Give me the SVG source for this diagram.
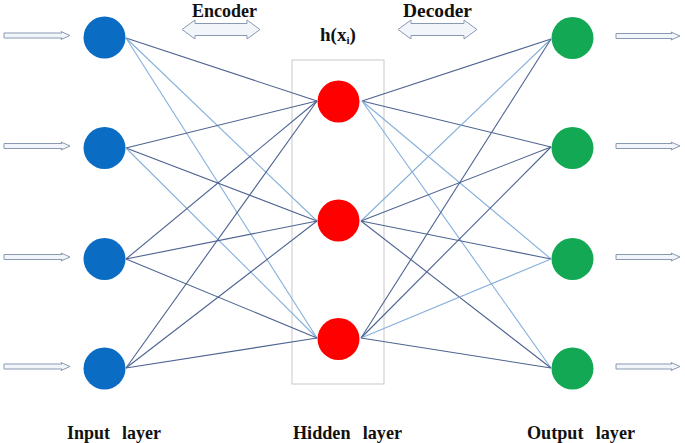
<svg xmlns="http://www.w3.org/2000/svg" width="685" height="443" viewBox="0 0 685 443">
<style>
.lbl{font-family:"Liberation Serif","Times New Roman",serif;font-weight:bold;fill:#111;}
.dk{stroke:#4d6391;stroke-width:1.1;fill:none;}
.lt{stroke:#85afdc;stroke-width:1.1;fill:none;}
.arr{fill:#f2f6fb;stroke:#8a99b2;stroke-width:1;}
.inp{fill:#0a6cc3;}
.hid{fill:#ff0000;}
.out{fill:#12a854;}
</style>
<rect width="685" height="443" fill="#ffffff"/>
<g id="hidden-box"><rect x="292" y="60" width="92" height="324" fill="none" stroke="#c9c9c9" stroke-width="1"/></g>
<g id="connectors">
<line class="dk" x1="126" y1="38" x2="317" y2="101"/>
<line class="lt" x1="126" y1="38" x2="317" y2="221"/>
<line class="lt" x1="126" y1="38" x2="317" y2="338"/>
<line class="dk" x1="126" y1="148" x2="317" y2="101"/>
<line class="dk" x1="126" y1="148" x2="317" y2="221"/>
<line class="lt" x1="126" y1="148" x2="317" y2="338"/>
<line class="dk" x1="126" y1="259" x2="317" y2="101"/>
<line class="dk" x1="126" y1="259" x2="317" y2="221"/>
<line class="dk" x1="126" y1="259" x2="317" y2="338"/>
<line class="dk" x1="126" y1="368" x2="317" y2="101"/>
<line class="dk" x1="126" y1="368" x2="317" y2="221"/>
<line class="dk" x1="126" y1="368" x2="317" y2="338"/>
<line class="dk" x1="362" y1="101" x2="551" y2="39"/>
<line class="dk" x1="362" y1="101" x2="551" y2="147"/>
<line class="lt" x1="362" y1="101" x2="551" y2="259"/>
<line class="lt" x1="362" y1="101" x2="551" y2="368"/>
<line class="lt" x1="361" y1="221" x2="551" y2="39"/>
<line class="dk" x1="361" y1="221" x2="551" y2="147"/>
<line class="dk" x1="361" y1="221" x2="551" y2="259"/>
<line class="dk" x1="361" y1="221" x2="551" y2="368"/>
<line class="dk" x1="361" y1="338" x2="551" y2="39"/>
<line class="dk" x1="361" y1="338" x2="551" y2="147"/>
<line class="lt" x1="361" y1="338" x2="551" y2="259"/>
<line class="dk" x1="361" y1="338" x2="551" y2="368"/>
</g>
<g id="input-arrows">
<path class="arr" d="M4,33 L62,33 L61,31.5 L70,35.5 L61,39.5 L62,38 L4,38 Z"/>
<path class="arr" d="M4,143.5 L62,143.5 L61,142 L70,146 L61,150 L62,148.5 L4,148.5 Z"/>
<path class="arr" d="M4,254.5 L62,254.5 L61,253 L70,257 L61,261 L62,259.5 L4,259.5 Z"/>
<path class="arr" d="M4,364 L62,364 L61,362.5 L70,366.5 L61,370.5 L62,369 L4,369 Z"/>
</g>
<g id="output-arrows">
<path class="arr" d="M616,33.5 L672,33.5 L671,32 L680,36 L671,40 L672,38.5 L616,38.5 Z"/>
<path class="arr" d="M616,143.5 L672,143.5 L671,142 L680,146 L671,150 L672,148.5 L616,148.5 Z"/>
<path class="arr" d="M616,254.5 L672,254.5 L671,253 L680,257 L671,261 L672,259.5 L616,259.5 Z"/>
<path class="arr" d="M616,364 L672,364 L671,362.5 L680,366.5 L671,370.5 L672,369 L616,369 Z"/>
</g>
<g id="input-nodes">
<circle id="in1" class="inp" cx="104.5" cy="37.5" r="21"/>
<circle id="in2" class="inp" cx="104.5" cy="148" r="21"/>
<circle id="in3" class="inp" cx="104.5" cy="259" r="21"/>
<circle id="in4" class="inp" cx="104.5" cy="368.5" r="21"/>
</g>
<g id="hidden-nodes">
<circle id="h1" class="hid" cx="338.5" cy="101.5" r="21"/>
<circle id="h2" class="hid" cx="338.5" cy="220.5" r="21"/>
<circle id="h3" class="hid" cx="338.5" cy="339" r="21"/>
</g>
<g id="output-nodes">
<circle id="o1" class="out" cx="572.5" cy="38" r="21"/>
<circle id="o2" class="out" cx="572.5" cy="148" r="21"/>
<circle id="o3" class="out" cx="572.5" cy="259" r="21"/>
<circle id="o4" class="out" cx="572.5" cy="368.5" r="21"/>
</g>
<g id="encoder">
<path class="arr" d="M182,29.5 L195,20 L195,23.5 L247,23.5 L247,20 L260,29.5 L247,39 L247,35.5 L195,35.5 L195,39 Z"/>
<text class="lbl" x="192" y="17" font-size="19" textLength="65" lengthAdjust="spacingAndGlyphs">Encoder</text>
</g>
<g id="decoder">
<path class="arr" d="M398,29.5 L411,20 L411,23.5 L464,23.5 L464,20 L477,29.5 L464,39 L464,35.5 L411,35.5 L411,39 Z"/>
<text class="lbl" x="403" y="17" font-size="19" textLength="69" lengthAdjust="spacingAndGlyphs">Decoder</text>
</g>
<g id="hx">
<text class="lbl" x="320" y="41" font-size="19">h(x<tspan font-size="11" dy="3">i</tspan><tspan dy="-3">)</tspan></text>
</g>
<g id="layer-labels">
<text class="lbl" x="67" y="439" font-size="19" textLength="94" lengthAdjust="spacingAndGlyphs" word-spacing="8">Input layer</text>
<text class="lbl" x="293" y="439" font-size="19" textLength="109" lengthAdjust="spacingAndGlyphs" word-spacing="8">Hidden layer</text>
<text class="lbl" x="527" y="439" font-size="19" textLength="108" lengthAdjust="spacingAndGlyphs" word-spacing="8">Output layer</text>
</g>
</svg>
